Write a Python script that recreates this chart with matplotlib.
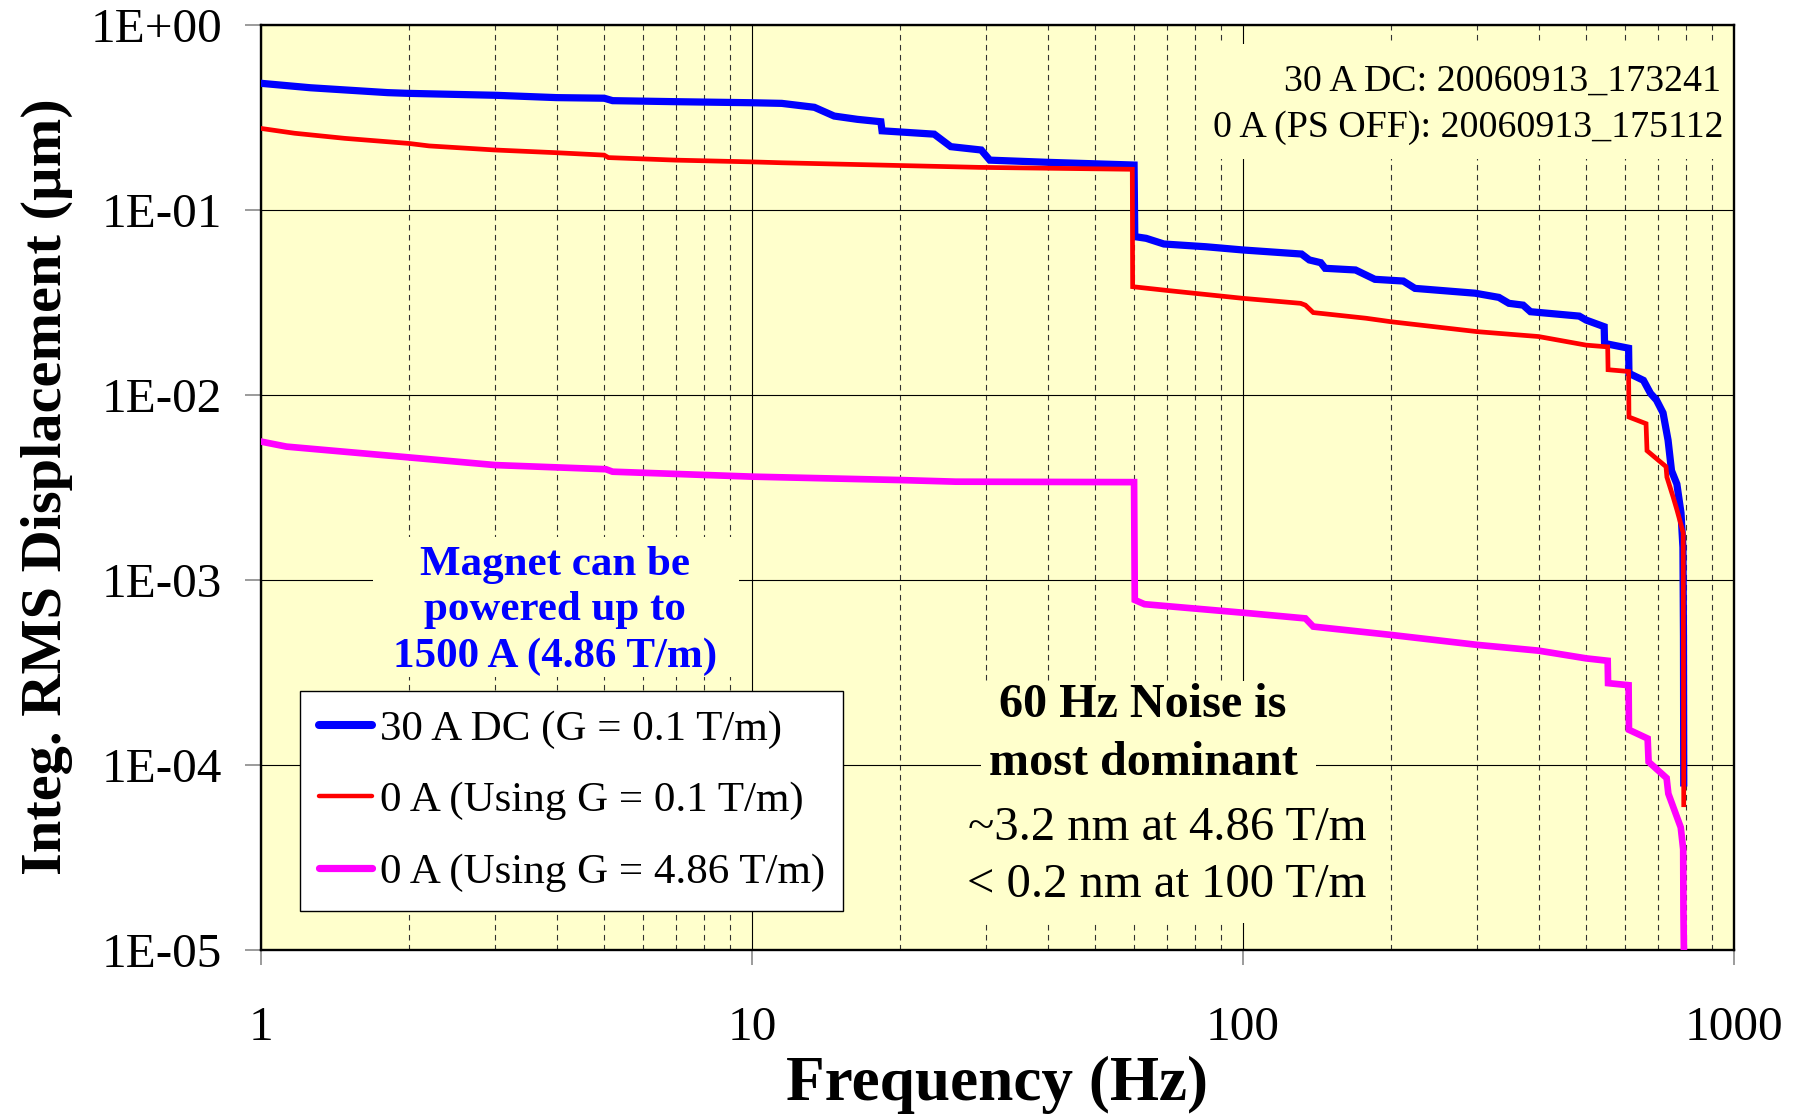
import matplotlib

matplotlib.use("Agg")
import matplotlib.pyplot as plt  # noqa: E402
from matplotlib.lines import Line2D  # noqa: E402
from matplotlib.patches import Rectangle  # noqa: E402
from matplotlib.ticker import FixedLocator, FuncFormatter, NullLocator  # noqa: E402

plt.rcParams["font.family"] = ["Liberation Serif", "DejaVu Serif"]

W, H = 1801, 1115
BG = "#FFFFCC"

# ---- data (Hz, um) ----
f_blue = [1, 1.26, 1.81, 2, 3, 4, 5, 5.2, 7, 10, 11.5, 13.4, 14.7, 16.4, 18.3, 18.4,
          23.5, 25.4, 29.3, 30.5, 40, 60, 60.2, 63.5, 69, 84, 100, 131.6, 136.5, 144,
          147, 169.5, 185.6, 212, 224, 297, 332, 348, 372, 385, 484, 500, 544, 545,
          610, 611, 654, 676, 695, 717, 734, 746, 765, 780, 787, 789, 790]
v_blue = [0.484, 0.458, 0.431, 0.427, 0.417, 0.405, 0.402, 0.39, 0.385, 0.38, 0.377,
          0.359, 0.322, 0.309, 0.30, 0.268, 0.257, 0.22, 0.211, 0.186, 0.181, 0.175,
          0.0718, 0.0703, 0.0655, 0.0633, 0.0608, 0.0578, 0.0537, 0.0519, 0.0484,
          0.0474, 0.0422, 0.0413, 0.0377, 0.0355, 0.0337, 0.0313, 0.0306, 0.0282,
          0.0267, 0.0254, 0.0234, 0.019, 0.0179, 0.0131, 0.012, 0.0102, 0.0094,
          0.0080, 0.0057, 0.0039, 0.0033, 0.0023, 0.0015, 0.0005, 0.00008]

f_red = [1, 1.17, 1.48, 2, 2.2, 3, 4, 5, 5.1, 7, 10, 11.5, 29, 59.5, 59.6, 71, 100,
         131, 134, 139, 178, 200, 300, 400, 500, 553, 554, 610, 611, 662, 665, 727,
         730, 752, 765, 788, 790]
v_red = [0.276, 0.26, 0.244, 0.229, 0.222, 0.211, 0.204, 0.198, 0.192, 0.186, 0.182,
         0.18, 0.170, 0.166, 0.0385, 0.0366, 0.0333, 0.0313, 0.0306, 0.0279, 0.026,
         0.0249, 0.022, 0.0207, 0.0186, 0.0182, 0.0137, 0.0134, 0.0076, 0.0070,
         0.0050, 0.0041, 0.0036, 0.0028, 0.0024, 0.0018, 0.000061]

f_mag = [1, 1.127, 2, 3, 5.04, 5.2, 10, 20, 26, 60, 60.2, 63, 103.7, 134, 139, 200,
         300, 400, 500, 553, 554, 610, 611, 667, 670, 729, 735, 779, 788, 789, 791]
v_mag = [0.0056, 0.00526, 0.0046, 0.00418, 0.00397, 0.00385, 0.00362, 0.00347,
         0.0034, 0.00338, 0.00078, 0.00074, 0.00066, 0.00062, 0.00056, 0.000505,
         0.000446, 0.000415, 0.000377, 0.000366, 0.000277, 0.00027, 0.000155,
         0.000139, 0.000104, 0.000085, 0.000070, 0.000046, 0.000035, 0.000016,
         0.000009]

labels = ["30 A DC (G = 0.1 T/m)", "0 A (Using G = 0.1 T/m)", "0 A (Using G = 4.86 T/m)"]
x_ticks = [1, 10, 100, 1000]
y_ticks = [1e-5, 1e-4, 1e-3, 1e-2, 1e-1, 1]


def fx(x):
    return x / W


def fy(y):
    return 1 - y / H


fig = plt.figure(figsize=(W / 100, H / 100), dpi=100)
fig.patch.set_facecolor("white")
ax = fig.add_axes([fx(261), fy(950), fx(1734) - fx(261), fy(25) - fy(950)])
ax.set_facecolor(BG)
ax.set_xscale("log")
ax.set_yscale("log")
ax.set_xlim(1, 1000)
ax.set_ylim(1e-5, 1)

ax.plot(f_blue, v_blue, color="#0000FF", lw=5.2, solid_joinstyle="miter", zorder=3)
ax.plot(f_red, v_red, color="#FF0000", lw=3.4, solid_joinstyle="miter", zorder=4)
ax.plot(f_mag, v_mag, color="#FF00FF", lw=4.8, solid_joinstyle="miter", zorder=3)

# ---- axes styling ----
ax.set_axisbelow(True)
ax.xaxis.set_major_locator(FixedLocator(x_ticks))
ax.xaxis.set_major_formatter(FuncFormatter(lambda v, p: f"{v:g}"))
ax.yaxis.set_major_locator(FixedLocator(y_ticks))
ax.yaxis.set_major_formatter(FuncFormatter(lambda v, p: f"{v:.0E}"))
ax.yaxis.set_minor_locator(NullLocator())
ax.grid(True, which="major", axis="both", color="black", lw=0.8)
ax.grid(True, which="minor", axis="x", color="#333333", lw=0.8, ls=(0, (5, 4)))
ax.tick_params(axis="y", which="major", length=11.5, width=1.1, color="#808080",
               labelsize=35.5, pad=16.5)
ax.tick_params(axis="x", which="major", length=10.8, width=1.1, color="#808080",
               labelsize=35.5, pad=29.5)
ax.tick_params(which="minor", length=0)
for s in ax.spines.values():
    s.set_linewidth(1.7)
    s.set_color("black")


# ---- background masks behind the text blocks ----
def mask(x0, y0, x1, y1):
    ax.add_patch(Rectangle((fx(x0), fy(y1)), fx(x1) - fx(x0), fy(y0) - fy(y1),
                           transform=fig.transFigure, fc=BG, ec="none", zorder=1))


mask(1208, 44, 1730, 159)
mask(373, 537, 739, 677)
mask(981, 681, 1316, 923)


def txt(x, y, s, size, color="black", weight="normal", ha="center"):
    fig.text(fx(x), fy(y), s, fontsize=size, color=color, fontweight=weight,
             ha=ha, va="baseline", zorder=5)


txt(1721, 91, "30 A DC: 20060913_173241", 27.3, ha="right")
txt(1723, 137, "0 A (PS OFF): 20060913_175112", 27.3, ha="right")

txt(555, 575, "Magnet can be", 31, "#0000FF", "bold")
txt(555, 620, "powered up to", 31, "#0000FF", "bold")
txt(555, 667, "1500 A (4.86 T/m)", 31, "#0000FF", "bold")

txt(1143, 717, "60 Hz Noise is", 34.7, weight="bold")
txt(1143, 775, "most dominant", 34.7, weight="bold")
txt(1167, 840, "~3.2 nm at 4.86 T/m", 35)
txt(1167, 897, "< 0.2 nm at 100 T/m", 35)

# ---- axis titles ----
fig.text(fx(997), fy(1100), "Frequency (Hz)", fontsize=45.5, fontweight="bold",
         ha="center", va="baseline")
fig.text(fx(61), fy(487), "Integ. RMS Displacement (\u00b5m)", fontsize=42,
         fontweight="bold", rotation=90, rotation_mode="anchor", ha="center",
         va="baseline")

# ---- legend ----
handles = [Line2D([], [], color="#0000FF", lw=5.8, solid_capstyle="round"),
           Line2D([], [], color="#FF0000", lw=3.2, solid_capstyle="round"),
           Line2D([], [], color="#FF00FF", lw=5.2, solid_capstyle="round")]
leg = ax.legend(handles, labels, loc="upper left",
                bbox_to_anchor=((300 - 261) / 1473, (950 - 691) / 925),
                borderaxespad=0, fontsize=31, handlelength=1.25, handletextpad=0.17,
                labelspacing=0.755, borderpad=0.43, fancybox=False, framealpha=1,
                edgecolor="black", facecolor="white")
leg.get_frame().set_linewidth(1.0)
leg.set_zorder(6)

fig.savefig("out.png", dpi=100)
